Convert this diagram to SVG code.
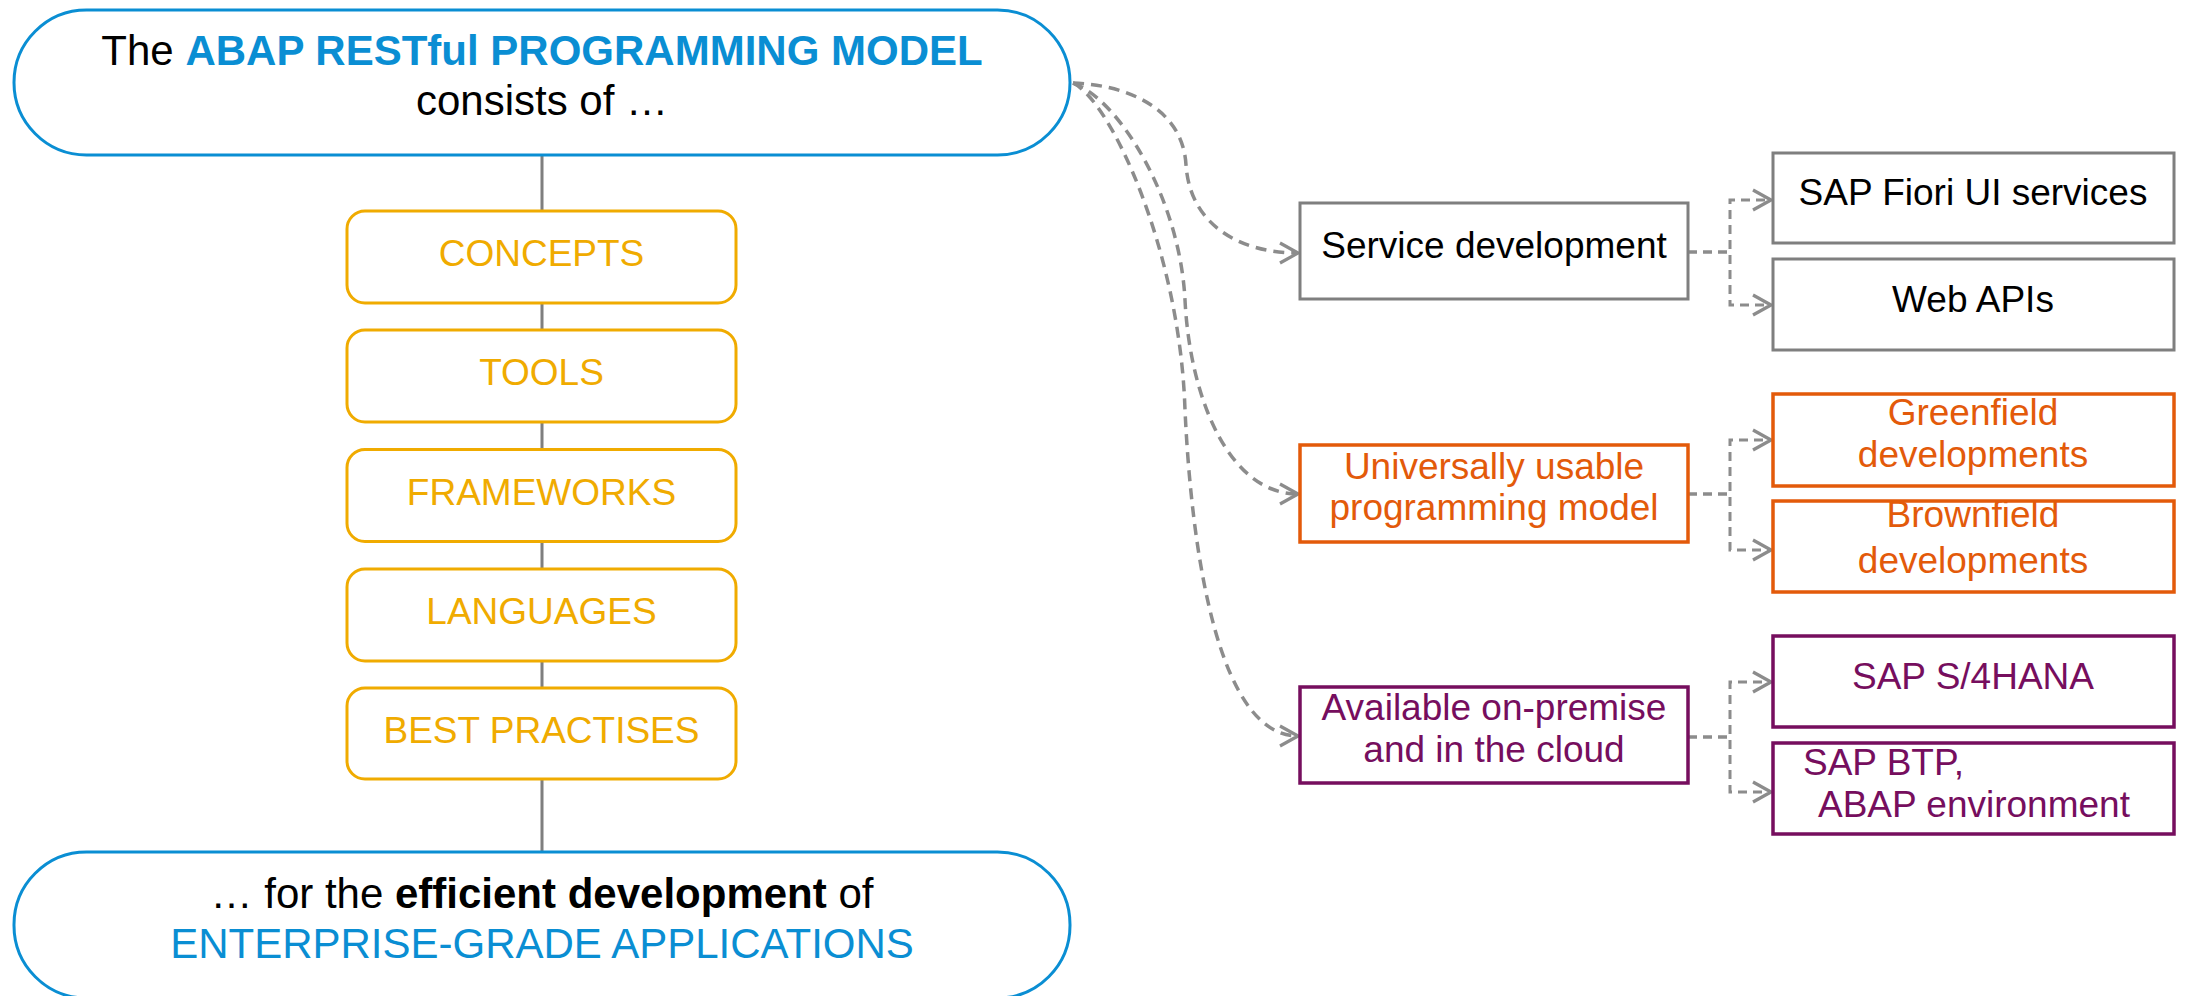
<svg xmlns="http://www.w3.org/2000/svg" width="2187" height="996" viewBox="0 0 2187 996">
<style>
  text { font-family: "Liberation Sans", Arial, sans-serif; }
  .pill { fill: #ffffff; stroke: #0A8ED3; stroke-width: 3; }
  .ybox { fill: #ffffff; stroke: #F0AB00; stroke-width: 3; }
  .ytxt { fill: #F0AB00; font-size: 37px; text-anchor: middle; }
  .gbox { fill: #ffffff; stroke: #7F7F7F; stroke-width: 3; }
  .obox { fill: #ffffff; stroke: #E35A0A; stroke-width: 3.5; }
  .pbox { fill: #ffffff; stroke: #760E5E; stroke-width: 3.5; }
  .t37 { font-size: 37px; text-anchor: middle; }
  .blk { fill: #000000; }
  .org { fill: #E35A0A; }
  .pur { fill: #760E5E; }
  .blue { fill: #0A8ED3; }
  .spine { stroke: #7F7F7F; stroke-width: 3; fill: none; }
  .dash { stroke: #8C8C8C; stroke-width: 3.5; fill: none; stroke-dasharray: 11 7; marker-end: url(#arr); }
  .edash { stroke: #8C8C8C; stroke-width: 3; fill: none; stroke-dasharray: 9 6; marker-end: url(#arr); }
</style>
<defs>
  <marker id="arr" markerUnits="userSpaceOnUse" markerWidth="24" markerHeight="26" viewBox="0 0 24 26" refX="21" refY="13" orient="auto">
    <path d="M3,3 L21,13 L3,23" fill="none" stroke="#8C8C8C" stroke-width="3.2" stroke-dasharray="none"/>
  </marker>
</defs>
<rect width="2187" height="996" fill="#ffffff"/>

<g id="spine">
  <line class="spine" x1="542" y1="155" x2="542" y2="852"/>
</g>

<g id="connectors">
  <path class="dash" d="M1073,83 C1130,85 1183,110 1186,165 C1190,225 1240,253 1298,253"/>
  <path class="dash" d="M1073,83 C1120,100 1180,200 1185,300 C1190,400 1230,494 1298,494"/>
  <path class="dash" d="M1073,83 C1110,100 1180,250 1185,410 C1192,560 1220,736 1298,736"/>
  <path class="edash" d="M1688,252 H1730 V200 H1771"/>
  <path class="edash" d="M1688,252 H1730 V305 H1771"/>
  <path class="edash" d="M1688,494 H1730 V440 H1771"/>
  <path class="edash" d="M1688,494 H1730 V550 H1771"/>
  <path class="edash" d="M1688,737 H1730 V682 H1771"/>
  <path class="edash" d="M1688,737 H1730 V792 H1771"/>
</g>

<g id="top-pill">
  <rect class="pill" x="14" y="10" width="1056" height="145" rx="72.5" ry="72.5"/>
  <text x="542" y="65" font-size="42" text-anchor="middle"><tspan class="blk">The </tspan><tspan class="blue" font-weight="bold">ABAP RESTful PROGRAMMING MODEL</tspan></text>
  <text x="542" y="115" font-size="42" text-anchor="middle" class="blk">consists of …</text>
</g>

<g id="concepts">
  <rect class="ybox" x="347" y="211" width="389" height="92" rx="18"/>
  <text class="ytxt" x="541.5" y="266">CONCEPTS</text>
</g>
<g id="tools">
  <rect class="ybox" x="347" y="330" width="389" height="92" rx="18"/>
  <text class="ytxt" x="541.5" y="385">TOOLS</text>
</g>
<g id="frameworks">
  <rect class="ybox" x="347" y="449.5" width="389" height="92" rx="18"/>
  <text class="ytxt" x="541.5" y="504.5">FRAMEWORKS</text>
</g>
<g id="languages">
  <rect class="ybox" x="347" y="569" width="389" height="92" rx="18"/>
  <text class="ytxt" x="541.5" y="624">LANGUAGES</text>
</g>
<g id="best-practises">
  <rect class="ybox" x="347" y="688" width="389" height="91" rx="18"/>
  <text class="ytxt" x="541.5" y="743">BEST PRACTISES</text>
</g>

<g id="bottom-pill">
  <rect class="pill" x="14" y="852" width="1056" height="146" rx="72.5" ry="72.5"/>
  <text x="542" y="908" font-size="42" text-anchor="middle" class="blk"><tspan>… for the </tspan><tspan font-weight="bold">efficient development</tspan><tspan> of</tspan></text>
  <text x="542" y="958" font-size="42" text-anchor="middle" class="blue">ENTERPRISE-GRADE APPLICATIONS</text>
</g>

<g id="service-development">
  <rect class="gbox" x="1300" y="203" width="388" height="96"/>
  <text class="t37 blk" x="1494" y="258">Service development</text>
</g>
<g id="fiori-ui-services">
  <rect class="gbox" x="1773" y="153" width="401" height="90"/>
  <text class="t37 blk" x="1973" y="205">SAP Fiori UI services</text>
</g>
<g id="web-apis">
  <rect class="gbox" x="1773" y="259" width="401" height="91"/>
  <text class="t37 blk" x="1973" y="312">Web APIs</text>
</g>

<g id="universally-usable">
  <rect class="obox" x="1300" y="445" width="388" height="97"/>
  <text class="t37 org" x="1494" y="479">Universally usable</text>
  <text class="t37 org" x="1494" y="520">programming model</text>
</g>
<g id="greenfield">
  <rect class="obox" x="1773" y="394" width="401" height="92"/>
  <text class="t37 org" x="1973" y="425">Greenfield</text>
  <text class="t37 org" x="1973" y="467">developments</text>
</g>
<g id="brownfield">
  <rect class="obox" x="1773" y="501" width="401" height="91"/>
  <text class="t37 org" x="1973" y="527">Brownfield</text>
  <text class="t37 org" x="1973" y="573">developments</text>
</g>

<g id="available">
  <rect class="pbox" x="1300" y="687" width="388" height="96"/>
  <text class="t37 pur" x="1494" y="720">Available on-premise</text>
  <text class="t37 pur" x="1494" y="762">and in the cloud</text>
</g>
<g id="s4hana">
  <rect class="pbox" x="1773" y="636" width="401" height="91"/>
  <text class="t37 pur" x="1973" y="689">SAP S/4HANA</text>
</g>
<g id="btp">
  <rect class="pbox" x="1773" y="743" width="401" height="91"/>
  <text class="pur" font-size="37" x="1803" y="775">SAP BTP,</text>
  <text class="pur" font-size="37" x="1818" y="817">ABAP environment</text>
</g>
</svg>
